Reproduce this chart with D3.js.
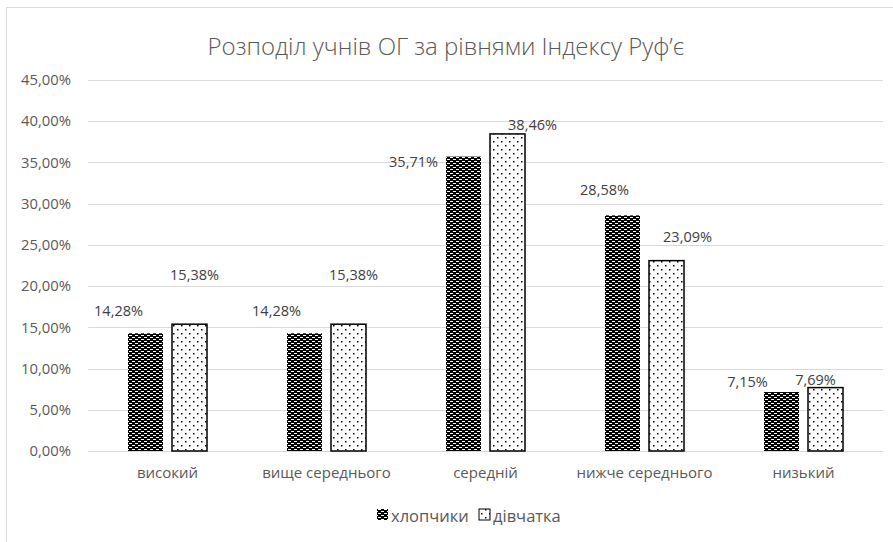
<!DOCTYPE html>
<html>
<head>
<meta charset="utf-8">
<script src="https://cdn.jsdelivr.net/npm/d3@7"></script>
<style>
  html, body { margin: 0; padding: 0; background: #fff; }
  svg { display: block; }
</style>
</head>
<body>
<svg id="chart" width="893" height="542"></svg>
<script>
// ---- data ----
const categories = ["високий", "вище середнього", "середній", "нижче середнього", "низький"];
const seriesNames = ["хлопчики", "дівчатка"];
const boys = [14.28, 14.28, 35.71, 28.58, 7.15];
const girls = [15.38, 15.38, 38.46, 23.09, 7.69];
const yTicks = [0, 5, 10, 15, 20, 25, 30, 35, 40, 45];
const title = "Розподіл учнів ОГ за рівнями Індексу Руф’є";

// manual label offsets (px) relative to bar centre / top, as in the reference
const boysLabelDx = [-27, -28, -50, -18, -34];
const boysLabelDy = [-23, -23, 5, -26, -11];
const girlsLabelDx = [5, 5, 25, 21, -10];
const girlsLabelDy = [-50, -50, -9, -24, -8];

const fmt = v => v.toFixed(2).replace(".", ",") + "%";
const font = "'Open Sans', 'Noto Sans', 'Liberation Sans', sans-serif";
const textColor = "#595959";

const svg = d3.select("#chart");
const defs = svg.append("defs");

// patterns
const pDark = defs.append("pattern").attr("id", "pDark")
  .attr("patternUnits", "userSpaceOnUse").attr("width", 6).attr("height", 4);
pDark.append("rect").attr("width", 6).attr("height", 4).attr("fill", "#000");
pDark.append("rect").attr("x", 0).attr("y", 1).attr("width", 3).attr("height", 1).attr("fill", "#fff");
pDark.append("rect").attr("x", 3).attr("y", 3).attr("width", 3).attr("height", 1).attr("fill", "#fff");

const pDot = defs.append("pattern").attr("id", "pDot")
  .attr("patternUnits", "userSpaceOnUse").attr("width", 8).attr("height", 8);
pDot.append("rect").attr("width", 8).attr("height", 8).attr("fill", "#fff");
pDot.append("rect").attr("x", 1).attr("y", 1).attr("width", 1.5).attr("height", 1.5).attr("fill", "#000");
pDot.append("rect").attr("x", 5).attr("y", 5).attr("width", 1.5).attr("height", 1.5).attr("fill", "#000");

// outer chart border (partially visible)
svg.append("rect").attr("x", 6.5).attr("y", 7.5).attr("width", 900).attr("height", 600)
  .attr("fill", "none").attr("stroke", "#d9d9d9").attr("stroke-width", 1);

const plot = { left: 88, right: 883, top: 80, bottom: 451 };

const x0 = d3.scaleBand().domain(categories).range([plot.left, plot.right]).paddingInner(0).paddingOuter(0);
const y = d3.scaleLinear().domain([0, 45]).range([plot.bottom, plot.top]);

const barW = 35, barGap = 9;

// gridlines
svg.append("g").selectAll("line").data(yTicks).join("line")
  .attr("x1", plot.left).attr("x2", plot.right)
  .attr("y1", d => Math.round(y(d)) + 0.5).attr("y2", d => Math.round(y(d)) + 0.5)
  .attr("stroke", "#d9d9d9").attr("stroke-width", 1);

// y axis labels
const yAxis = d3.axisLeft(y).tickValues(yTicks).tickSize(0).tickPadding(0)
  .tickFormat(d => d.toFixed(2).replace(".", ",") + "%");
const gy = svg.append("g").attr("transform", `translate(${71},0)`).call(yAxis);
gy.select(".domain").remove();
gy.selectAll("text").attr("fill", textColor).style("font-family", font).style("font-size", "14.8px");

// x axis labels
const xAxis = d3.axisBottom(x0).tickSize(0).tickPadding(0);
const gx = svg.append("g").attr("transform", `translate(0,${467})`).call(xAxis);
gx.select(".domain").remove();
gx.selectAll("text").attr("fill", textColor).style("font-family", font).style("font-size", "15px");

// bars
const cx = i => x0(categories[i]) + x0.bandwidth() / 2;
const boysX = i => cx(i) - barGap / 2 - barW;
const girlsX = i => cx(i) + barGap / 2;

svg.append("g").selectAll("rect").data(boys).join("rect")
  .attr("x", (d, i) => boysX(i)).attr("width", barW)
  .attr("y", d => y(d)).attr("height", d => y(0) - y(d))
  .attr("fill", "url(#pDark)");

svg.append("g").selectAll("rect").data(girls).join("rect")
  .attr("x", (d, i) => girlsX(i)).attr("width", barW)
  .attr("y", d => y(d)).attr("height", d => y(0) - y(d))
  .attr("fill", "url(#pDot)").attr("stroke", "#000").attr("stroke-width", 1.5);

// data labels
svg.append("g").selectAll("text").data(boys).join("text")
  .attr("x", (d, i) => boysX(i) + barW / 2 + boysLabelDx[i])
  .attr("y", (d, i) => y(d) + boysLabelDy[i])
  .attr("text-anchor", "middle").attr("dominant-baseline", "central")
  .attr("fill", "#404040").style("font-family", font).style("font-size", "14.5px")
  .text(fmt);

svg.append("g").selectAll("text").data(girls).join("text")
  .attr("x", (d, i) => girlsX(i) + barW / 2 + girlsLabelDx[i])
  .attr("y", (d, i) => y(d) + girlsLabelDy[i])
  .attr("text-anchor", "middle").attr("dominant-baseline", "central")
  .attr("fill", "#404040").style("font-family", font).style("font-size", "14.5px")
  .text(fmt);

// title
svg.append("text").attr("x", 446).attr("y", 45)
  .attr("text-anchor", "middle").attr("dominant-baseline", "central")
  .attr("fill", textColor).style("font-family", font).style("font-size", "24px").style("font-weight", 300)
  .text(title);

// legend
const legend = svg.append("g");
const legendItems = [
  { name: seriesNames[0], fill: "url(#pDark)", stroke: "none", x: 377 },
  { name: seriesNames[1], fill: "url(#pDot)", stroke: "#000", x: 479 }
];
legendItems.forEach(it => {
  legend.append("rect").attr("x", it.x).attr("y", 509).attr("width", 11).attr("height", 11)
    .attr("fill", it.fill).attr("stroke", it.stroke).attr("stroke-width", 1);
  legend.append("text").attr("x", it.x + 14).attr("y", 515)
    .attr("dominant-baseline", "central").attr("fill", textColor)
    .style("font-family", font).style("font-size", "16.5px").text(it.name);
});
</script>
</body>
</html>
